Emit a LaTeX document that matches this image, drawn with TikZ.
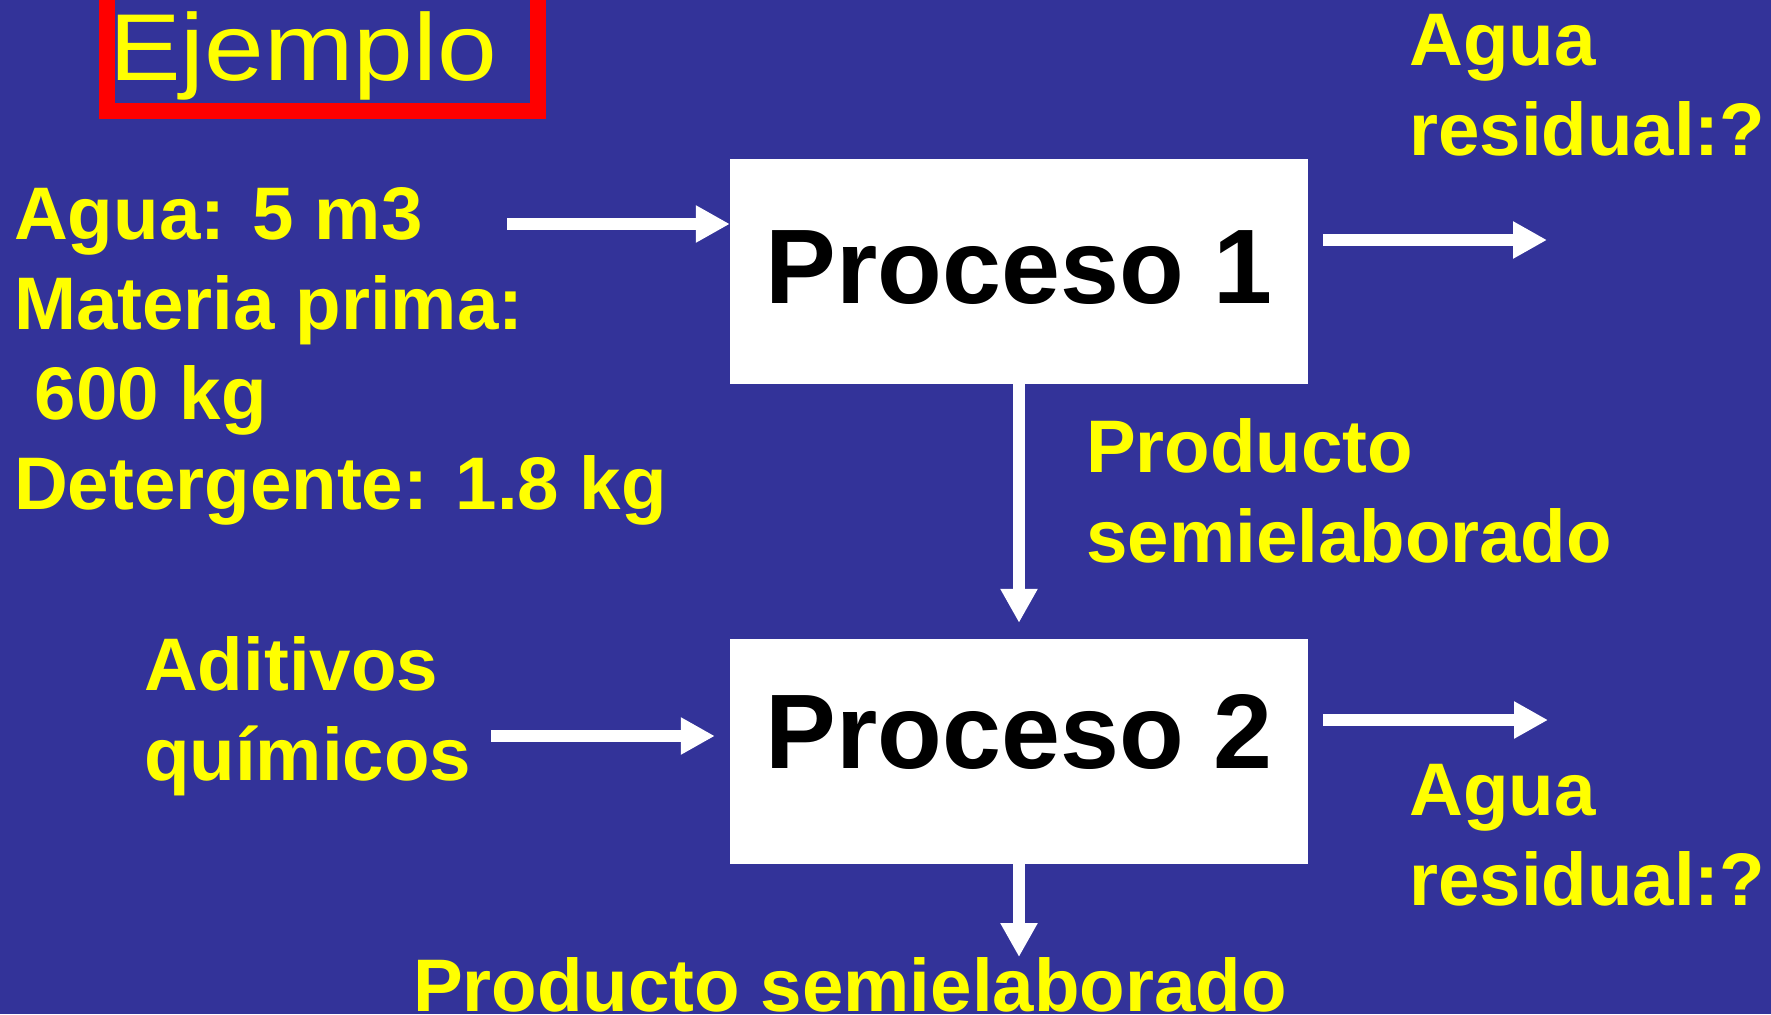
\documentclass[tikz,border=0pt]{standalone}
\usepackage{fontspec}
\setmainfont{Liberation Sans}
\usepackage{tikz}
\usetikzlibrary{arrows.meta}
\definecolor{slideblue}{RGB}{51,51,153}
\definecolor{slideyellow}{RGB}{255,255,0}

\begin{document}
\begin{tikzpicture}[x=1pt, y=-1pt,
  procbox/.style={fill=white, minimum width=578pt, minimum height=225pt, inner sep=0, font=\fontsize{106}{106}\selectfont\bfseries},
  lbl/.style={text=slideyellow, font=\fontsize{74.5}{90}\selectfont\bfseries, align=left, anchor=north west, inner sep=0},
  flow/.style={white, line width=11.5pt, -{Triangle[length=34pt, width=35pt]}}]
\useasboundingbox (0,0) rectangle (1771,1014);
\fill[slideblue] (0,0) rectangle (1771,1014);
%title
\draw[red, line width=16pt] (107,-40) rectangle (538,111);
\node[text=slideyellow, font=\fontsize{95}{95}\selectfont, anchor=base west, inner sep=0] (title) at (109,81) {\scalebox{1.13}[1]{Ejemplo}};
\node[procbox, text depth=9pt] (p1) at (1019,271.5) {Proceso 1};
\node[procbox, text depth=40pt] (p2) at (1019,751.5) {Proceso 2};
\node[lbl] (in1) at (14,187) {Agua: 5 m3\\Materia prima:\\~600 kg\\Detergente: 1.8 kg};
\node[lbl] (out1) at (1409,14) {Agua\\residual:?};
\node[lbl] (prod1) at (1086,418) {Producto\\semielaborado};
\node[lbl] (in2) at (144,636) {Aditivos\\químicos};
\node[lbl] (out2) at (1409,764) {Agua\\residual:?};
\node[lbl] (prod2) at (413,957) {Producto semielaborado};
\coordinate (inA) at (507,224);
\coordinate (outA) at (1547,240);
\coordinate (inB) at (491,736);
\coordinate (outB) at (1548,720);
\draw[flow] (inA) -- (inA -| p1.west);
\draw[flow, shorten <=15pt] (p1.east |- outA) -- (outA);
\draw[flow, shorten >=16pt] (p1.south) -- (p2.north);
\draw[flow, shorten >=15pt] (inB) -- (inB -| p2.west);
\draw[flow, shorten <=15pt] (p2.east |- outB) -- (outB);
\draw[flow] (p2.south) -- (p2.south |- prod2.north);
\end{tikzpicture}
\end{document}
